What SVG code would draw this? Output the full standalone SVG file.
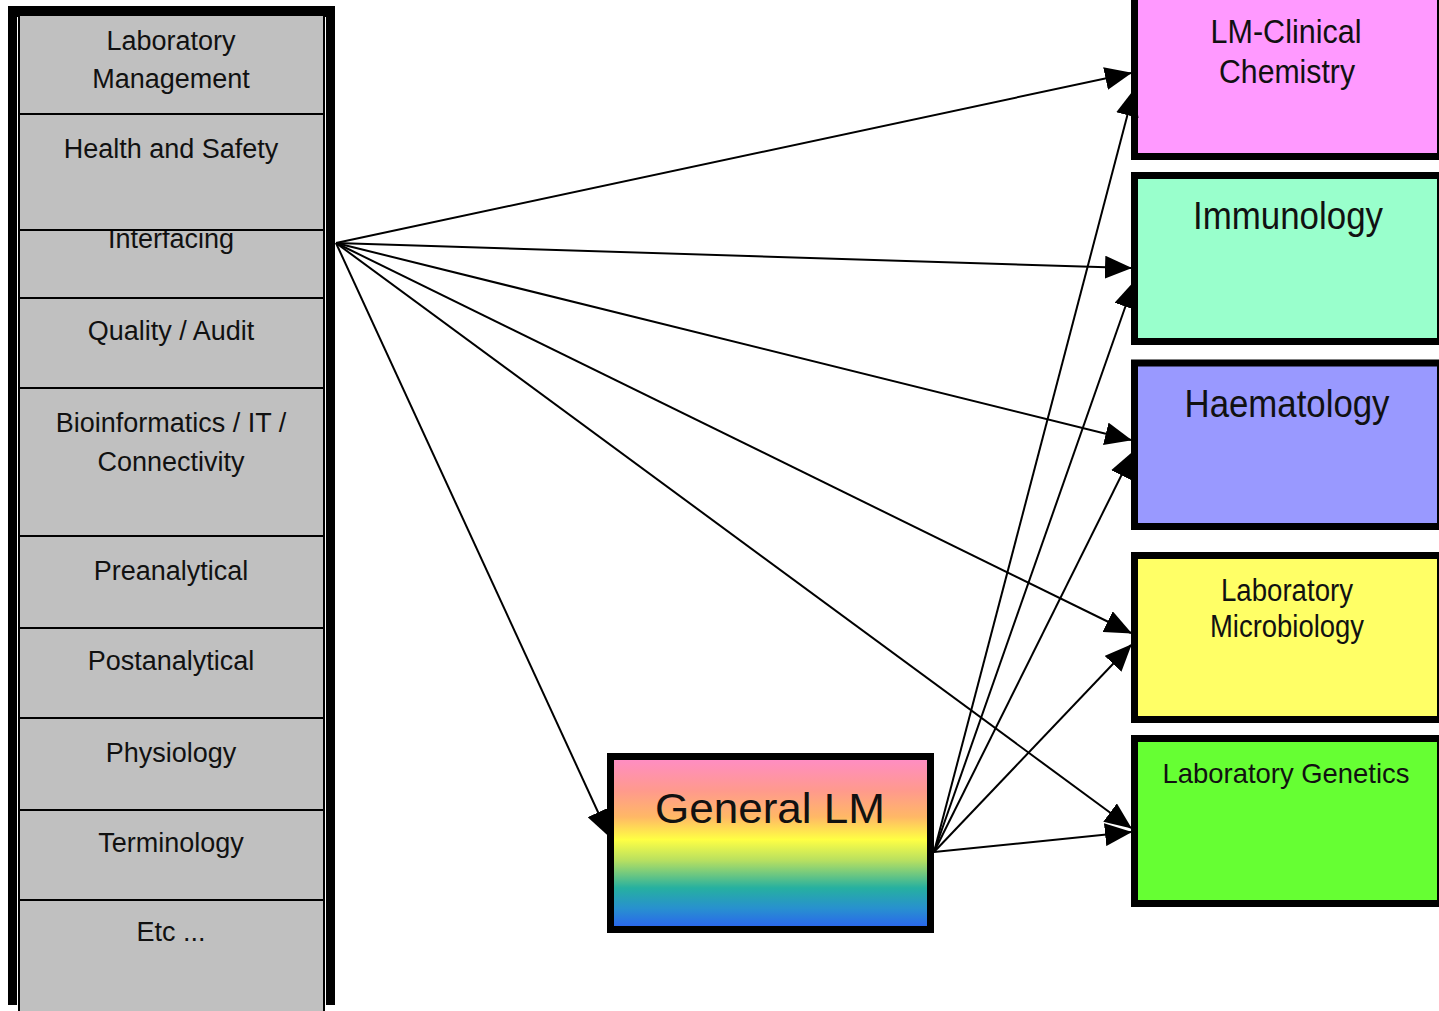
<svg xmlns="http://www.w3.org/2000/svg" width="1439" height="1011" viewBox="0 0 1439 1011">
<defs>
<style>
.cell{fill:#c0c0c0;stroke:#000;stroke-width:2}
.t{font-family:"Liberation Sans",Arial,sans-serif;fill:#111;text-anchor:middle}
.lt{font-size:27px}
.box{stroke:#000;stroke-width:7}
.c{stroke:#000;stroke-width:2;fill:none;marker-end:url(#ah)}
</style>
<marker id="ah" markerUnits="userSpaceOnUse" markerWidth="27" markerHeight="23" viewBox="0 0 27 23" refX="26" refY="11.5" orient="auto">
<path d="M0,0 L27,11.5 L0,23 z" fill="#000"/>
</marker>
<linearGradient id="rainbow" x1="0" y1="0" x2="0" y2="1">
<stop offset="0" stop-color="#ff8cc8"/>
<stop offset="0.2" stop-color="#ff9a8c"/>
<stop offset="0.35" stop-color="#ffb866"/>
<stop offset="0.48" stop-color="#ffff44"/>
<stop offset="0.6" stop-color="#b8e060"/>
<stop offset="0.76" stop-color="#26b0a0"/>
<stop offset="0.88" stop-color="#2890d0"/>
<stop offset="1" stop-color="#2a60f0"/>
</linearGradient>
</defs>
<rect width="1439" height="1011" fill="#fff"/>

<g id="left-column">
<rect x="12.5" y="10.5" width="318" height="990" fill="#000" stroke="#000" stroke-width="9"/>
<rect x="17" y="17" width="309" height="994" fill="#fff"/>
<g id="cell-interfacing"><rect class="cell" x="19" y="230" width="305" height="68"/><text class="t lt" x="171" y="248">Interfacing</text></g>
<g id="cell-lab-mgmt"><rect class="cell" x="19" y="15" width="305" height="99"/><text class="t lt" x="171" y="50">Laboratory</text><text class="t lt" x="171" y="88">Management</text></g>
<g id="cell-health"><rect class="cell" x="19" y="114" width="305" height="116"/><text class="t lt" x="171" y="158">Health and Safety</text></g>
<g id="cell-quality"><rect class="cell" x="19" y="298" width="305" height="90"/><text class="t lt" x="171" y="340">Quality / Audit</text></g>
<g id="cell-bioinf"><rect class="cell" x="19" y="388" width="305" height="148"/><text class="t lt" x="171" y="432">Bioinformatics / IT /</text><text class="t lt" x="171" y="471">Connectivity</text></g>
<g id="cell-pre"><rect class="cell" x="19" y="536" width="305" height="92"/><text class="t lt" x="171" y="580">Preanalytical</text></g>
<g id="cell-post"><rect class="cell" x="19" y="628" width="305" height="90"/><text class="t lt" x="171" y="670">Postanalytical</text></g>
<g id="cell-phys"><rect class="cell" x="19" y="718" width="305" height="92"/><text class="t lt" x="171" y="762">Physiology</text></g>
<g id="cell-term"><rect class="cell" x="19" y="810" width="305" height="90"/><text class="t lt" x="171" y="852">Terminology</text></g>
<g id="cell-etc"><rect class="cell" x="19" y="900" width="305" height="130"/><text class="t lt" x="171" y="941">Etc ...</text></g>
</g>

<g id="node-clinchem"><rect class="box" x="1134.5" y="-15" width="306" height="171.5" fill="#ff99ff"/><text class="t" font-size="33" x="1286" y="43" textLength="151" lengthAdjust="spacingAndGlyphs">LM-Clinical</text><text class="t" font-size="33" x="1287" y="83" textLength="136" lengthAdjust="spacingAndGlyphs">Chemistry</text></g>
<g id="node-immuno"><rect class="box" x="1134.5" y="175.5" width="306" height="166" fill="#99ffcc"/><text class="t" font-size="38" x="1288" y="229" textLength="190" lengthAdjust="spacingAndGlyphs">Immunology</text></g>
<g id="node-haem"><rect class="box" x="1134.5" y="363" width="306" height="163.5" fill="#9999ff"/><text class="t" font-size="38" x="1287" y="417" textLength="205" lengthAdjust="spacingAndGlyphs">Haematology</text></g>
<g id="node-micro"><rect class="box" x="1134.5" y="555.5" width="306" height="164" fill="#ffff66"/><text class="t" font-size="31" x="1287" y="601" textLength="132" lengthAdjust="spacingAndGlyphs">Laboratory</text><text class="t" font-size="31" x="1287" y="637" textLength="154" lengthAdjust="spacingAndGlyphs">Microbiology</text></g>
<g id="node-genetics"><rect class="box" x="1134.5" y="738.5" width="306" height="165" fill="#66ff33"/><text class="t" font-size="28" x="1286" y="783" textLength="247" lengthAdjust="spacingAndGlyphs">Laboratory Genetics</text></g>
<g id="node-general"><rect class="box" x="610.5" y="756.5" width="320" height="173" fill="url(#rainbow)"/><text class="t" font-size="43" x="770" y="823" textLength="230" lengthAdjust="spacingAndGlyphs">General LM</text></g>

<g id="connectors">
<line class="c" x1="336" y1="243" x2="1131" y2="73"/>
<line class="c" x1="336" y1="243" x2="1131" y2="268"/>
<line class="c" x1="336" y1="243" x2="1131" y2="440"/>
<line class="c" x1="336" y1="243" x2="1131" y2="633"/>
<line class="c" x1="336" y1="243" x2="1131" y2="828"/>
<line class="c" x1="336" y1="243" x2="609" y2="836"/>
<line class="c" x1="934" y1="852" x2="1134" y2="90"/>
<line class="c" x1="934" y1="852" x2="1134" y2="282"/>
<line class="c" x1="934" y1="852" x2="1133" y2="452"/>
<line class="c" x1="934" y1="852" x2="1131" y2="645"/>
<line class="c" x1="934" y1="852" x2="1131" y2="832"/>
</g>
</svg>
